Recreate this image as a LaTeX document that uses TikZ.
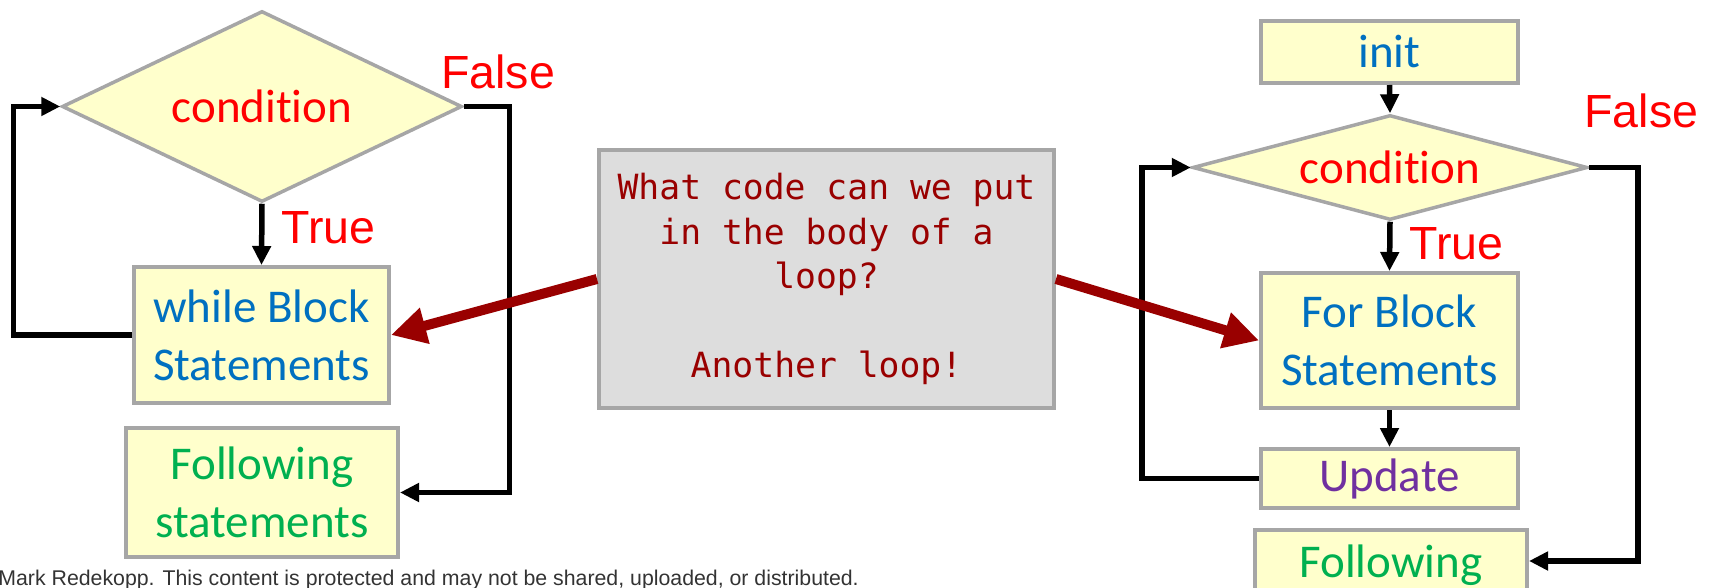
\documentclass[tikz,border=0pt]{standalone}
\usepackage{fontspec}
\setmainfont{Carlito}[Ligatures=NoCommon]
\newfontfamily\labelfont{Liberation Sans}
\newfontfamily\codefont{DejaVu Sans Mono}
\usetikzlibrary{shapes.geometric,arrows.meta}

\definecolor{boxfill}{HTML}{FFFFCC}
\definecolor{boxline}{HTML}{A6A6A6}
\definecolor{notefill}{HTML}{DDDDDD}
\definecolor{darkred}{HTML}{990000}
\definecolor{condred}{HTML}{FF0000}
\definecolor{blocktext}{HTML}{0070C0}
\definecolor{nexttext}{HTML}{00B050}
\definecolor{updtext}{HTML}{7030A0}

\tikzset{
  box/.style={draw=boxline, fill=boxfill, line width=2pt, inner sep=0pt,
    align=center, font=\fontsize{23.5}{29}\selectfont},
  decision/.style={diamond, draw=boxline, fill=boxfill, line width=1.75pt,
    inner sep=0pt, text=condred, font=\fontsize{23.5}{29}\selectfont},
  branch/.style={text=condred, inner sep=0pt, anchor=base west,
    font=\labelfont\fontsize{23.25}{28}\selectfont},
  flow/.style={line width=2.75pt, -{Triangle[length=9.5pt,width=9pt]}},
  pointer/.style={draw=darkred, line width=5pt,
    -{Triangle[length=17.5pt,width=17.5pt]}},
}

\begin{document}
\begin{tikzpicture}[x=0.5pt,y=-0.5pt]
\useasboundingbox (0,0) rectangle (1713,588);

% while loop
\node[decision, minimum width=200pt, minimum height=95.5pt, aspect=2.09]
  (c1) at (262,106.5) {condition};
\node[box, text=blocktext, minimum width=127.5pt, minimum height=68pt]
  (w1) at (261.5,335) {while Block\\Statements};
\node[box, text=nexttext, minimum width=136pt, minimum height=64.5pt]
  (f1) at (262,492.5) {Following\\statements};
\node[branch] (t1) at (281,244) {True};
\node[branch] (n1) at (441,89) {False};
\coordinate (l1) at (13.5,0);
\coordinate (r1) at (509.5,0);

\draw[flow] (c1.south) -- (w1.north);
\draw[flow] (w1.west) -| (l1 |- c1.west) -- (c1.west);
\draw[flow] (c1.east) -| (r1 |- f1.east) -- (f1.east);

% question in the middle
\node[draw=boxline, fill=notefill, line width=2pt, inner sep=0pt,
  minimum width=227.5pt, minimum height=129pt, align=center, text=darkred,
  font=\codefont\fontsize{17.35}{22.25}\selectfont]
  (q) at (826.5,279)
  {What code can we put\\in the body of a\\loop?\\[22.25pt]Another loop!};

% for loop
\node[box, text=blocktext, minimum width=128.5pt, minimum height=31pt]
  (i2) at (1389.5,52) {init};
\node[decision, minimum width=197.5pt, minimum height=52.5pt, aspect=3.76]
  (c2) at (1390,167.5) {condition};
\node[box, text=blocktext, minimum width=128.5pt, minimum height=67.5pt]
  (b2) at (1389.5,340.5) {For Block\\Statements};
\node[box, text=updtext, minimum width=128.5pt, minimum height=29.5pt]
  (u2) at (1389.5,478.5) {Update};
\node[box, text=nexttext, minimum width=136pt, minimum height=60pt]
  (f2) at (1391,590) {Following\\\phantom{statements}};
\node[branch] (t2) at (1409,260) {True};
\node[branch] (n2) at (1584,128) {False};
\coordinate (l2) at (1142,0);
\coordinate (r2) at (1638,561);

\draw[flow] (i2.south) -- (c2.north);
\draw[flow] (c2.south) -- (b2.north);
\draw[flow] (b2.south) -- (u2.north);
\draw[flow] (u2.west) -| (l2 |- c2.west) -- (c2.west);
\draw[flow] (c2.east) -| (r2) -- (r2 -| f2.east);

% pointers from the question
\draw[pointer] (q.west) -- (w1.east);
\draw[pointer] (q.east) -- (b2.west);

% footer
\node[anchor=base west, inner sep=0pt, text=black!80,
  font=\labelfont\fontsize{10.65}{12}\selectfont] (copy) at (-2,585)
  {Mark Redekopp. This content is protected and may not be shared, uploaded, or distributed.};
\end{tikzpicture}
\end{document}
